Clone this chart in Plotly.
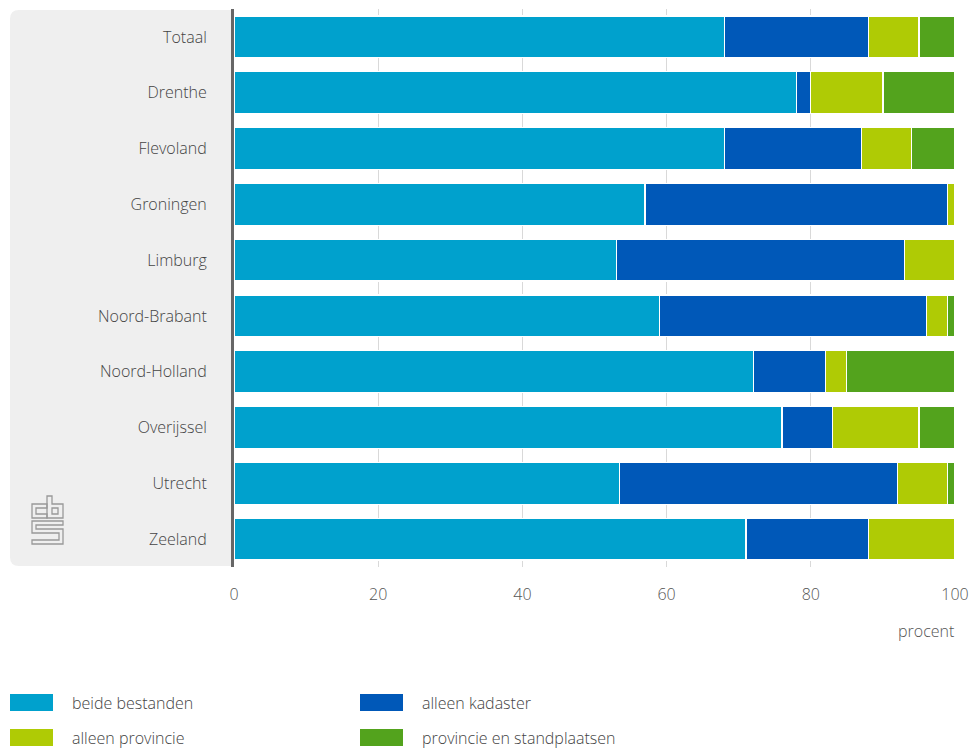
import plotly.graph_objects as go

categories = ["Totaal", "Drenthe", "Flevoland", "Groningen", "Limburg",
              "Noord-Brabant", "Noord-Holland", "Overijssel", "Utrecht", "Zeeland"]
beide_bestanden = [68, 78, 68, 57, 53, 59, 72, 76, 53.5, 71]
alleen_kadaster = [20, 2, 19, 42, 40, 37, 10, 7, 38.5, 17]
alleen_provincie = [7, 10, 7, 1, 7, 3, 3, 12, 7, 12]
provincie_standplaatsen = [5, 10, 6, 0, 0, 1, 15, 5, 1, 0]

series_names = ["beide bestanden", "alleen kadaster", "alleen provincie", "provincie en standplaatsen"]
series_values = [beide_bestanden, alleen_kadaster, alleen_provincie, provincie_standplaatsen]
colors = ["#00A1CD", "#0058B8", "#AFCB05", "#53A31D"]
x_ticks = [0, 20, 40, 60, 80, 100]
x_title = "procent"

W, H = 973, 749
L, R, T, B = 234, 18, 9, 182
PW, PH = W - L - R, H - T - B

def px(x):
    return (x - L) / PW

def py(y):
    return (H - B - y) / PH

FONT = "Open Sans"

fig = go.Figure()
for name, vals, col in zip(series_names, series_values, colors):
    fig.add_trace(go.Bar(
        y=categories, x=vals, name=name, orientation="h",
        marker=dict(color=col, line=dict(color="white", width=1.2)),
        showlegend=False,
    ))

shapes = []
# grey rounded background box behind category labels
x0, x1, y0, y1, r = 10, 234, 10, 566, 9
path = (f"M {px(x1)},{py(y0)} L {px(x0 + r)},{py(y0)} "
        f"Q {px(x0)},{py(y0)} {px(x0)},{py(y0 + r)} "
        f"L {px(x0)},{py(y1 - r)} Q {px(x0)},{py(y1)} {px(x0 + r)},{py(y1)} "
        f"L {px(x1)},{py(y1)} Z")
shapes.append(dict(type="path", xref="paper", yref="paper", path=path,
                   fillcolor="#efefef", line=dict(width=0), layer="below"))

# CBS logo (outline)
def poly(pts):
    return "M " + " L ".join(f"{px(a)},{py(b)}" for a, b in pts) + " Z"

logo_parts = [
    [(47, 504), (32, 504), (32, 518), (47, 518), (47, 514), (36, 514), (36, 508), (47, 508)],
    [(47, 496), (52, 496), (52, 504), (63, 504), (63, 518), (47, 518)],
    [(52, 508), (58, 508), (58, 514), (52, 514)],
    [(32, 521), (63, 521), (63, 525), (36, 525), (36, 529), (63, 529), (63, 544),
     (32, 544), (32, 540), (59, 540), (59, 533), (32, 533)],
]
for p in logo_parts:
    shapes.append(dict(type="path", xref="paper", yref="paper", path=poly(p),
                       line=dict(color="#999999", width=1.3), fillcolor="rgba(0,0,0,0)"))

# custom legend
annotations = []
leg_pos = [(10, 694), (360, 694), (10, 729), (360, 729)]
for (lx, ly), name, col in zip(leg_pos, series_names, colors):
    shapes.append(dict(type="rect", xref="paper", yref="paper",
                       x0=px(lx), x1=px(lx + 43), y0=py(ly), y1=py(ly + 17),
                       fillcolor=col, line=dict(width=0)))
    annotations.append(dict(xref="paper", yref="paper", x=px(lx + 60), y=py(ly + 9),
                            text=name, showarrow=False, xanchor="left", yanchor="middle",
                            font=dict(family=FONT, size=16, color="#444444", weight=300)))

annotations.append(dict(xref="paper", yref="paper", x=px(956), y=py(631), text=x_title,
                        showarrow=False, xanchor="right", yanchor="middle",
                        font=dict(family=FONT, size=16, color="#555555", weight=300)))

fig.update_layout(
    width=W, height=H,
    margin=dict(l=L, r=R, t=T, b=B, pad=0, autoexpand=False),
    barmode="stack", bargap=0.25,
    plot_bgcolor="white", paper_bgcolor="white",
    shapes=shapes, annotations=annotations,
    showlegend=False,
    xaxis=dict(range=[0, 100], tickvals=x_ticks, showgrid=True, gridcolor="#d9d9d9",
               gridwidth=1, zeroline=False, showline=False, ticks="",
               ticklabelstandoff=16,
               tickfont=dict(family=FONT, size=16, color="#555555", weight=300),
               fixedrange=True),
    yaxis=dict(autorange="reversed", showgrid=False, zeroline=False,
               showline=True, linecolor="#666666", linewidth=3, ticks="",
               ticklabelstandoff=21,
               tickfont=dict(family=FONT, size=16, color="#444444", weight=300)),
)

fig.write_html("out.html", config={"displayModeBar": False},
               post_script="document.body.style.margin='0';document.body.style.overflow='hidden';")
